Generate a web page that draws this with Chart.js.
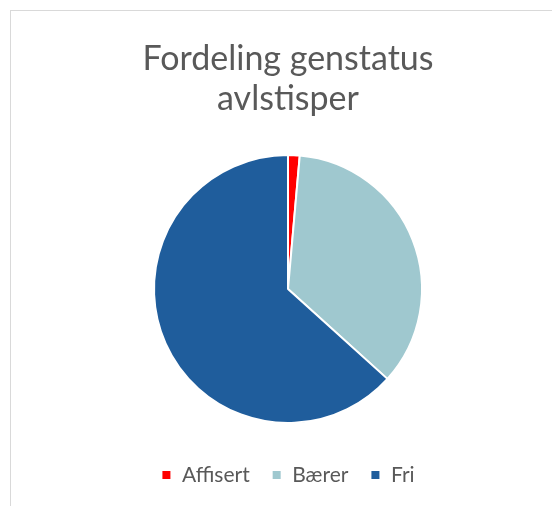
<!DOCTYPE html>
<html>
<head>
<meta charset="utf-8">
<script src="https://cdn.jsdelivr.net/npm/chart.js@4.4.1/dist/chart.umd.min.js"></script>
<style>
  body { margin: 0; background: #fff; }
  #wrap { position: relative; width: 552px; height: 506px; overflow: hidden; }
  #frame { position: absolute; left: 10px; top: 10px; width: 600px; height: 600px; border: 1px solid #d9d9d9; }
  #pie { position: absolute; left: 0; top: 0; }
</style>
</head>
<body>
<div id="wrap">
  <div id="frame"></div>
  <canvas id="pie" width="552" height="506"></canvas>
</div>
<script>
const titleLines = ['Fordeling genstatus', 'avlstisper'];
const categories = ['Affisert', 'Bærer', 'Fri'];
const shares = [1.4, 35.3, 63.3];
const colors = ['#FF0000', '#9FC8CF', '#1F5D9C'];

document.addEventListener('DOMContentLoaded', () => {
    new Chart(document.getElementById('pie'), {
        type: 'pie',
        data: {
            labels: categories,
            datasets: [{
                data: shares,
                backgroundColor: colors,
                borderColor: '#ffffff',
                borderWidth: 2,
                radius: 134,
            }],
        },
        options: {
            responsive: false,
            animation: false,
            layout: { padding: { left: 24, right: 0, top: 39, bottom: 10.5 } },
            plugins: {
                title: {
                    display: true,
                    text: titleLines,
                    color: '#595959',
                    font: { family: 'Lato', size: 34, weight: 'normal', lineHeight: '40px' },
                    padding: { top: 0, bottom: 16.5 },
                },
                legend: {
                    position: 'bottom',
                    labels: {
                        color: '#595959',
                        font: { family: 'Lato', size: 21 },
                        usePointStyle: true,
                        pointStyle: 'rect',
                        boxWidth: 10,
                        boxHeight: 10,
                        padding: 22,
                    },
                },
                tooltip: { enabled: false },
            },
        },
    });
});
</script>
</body>
</html>
